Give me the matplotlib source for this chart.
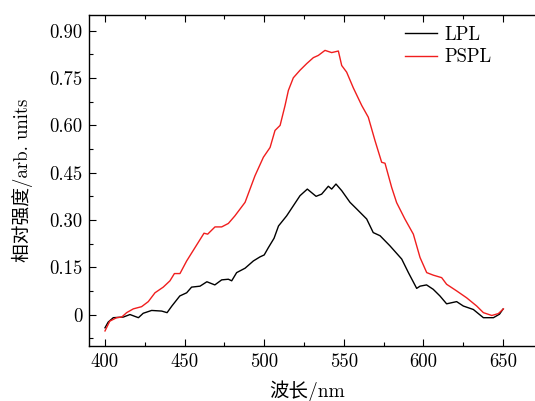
import numpy as np
import matplotlib
matplotlib.use('Agg')
import matplotlib.pyplot as plt
from matplotlib.ticker import MultipleLocator, FuncFormatter

plt.rcParams['font.family'] = ['cmr10', 'Noto Sans CJK SC']
plt.rcParams['mathtext.fontset'] = 'cm'
plt.rcParams['axes.formatter.use_mathtext'] = True

# LPL spectrum (black)
lpl_x = [400, 402, 405.2, 411.5, 415.7, 421, 424, 429.3, 435.6, 439, 442, 447, 451.3, 454.4,
         459.7, 464, 469, 473.3, 477.5, 479.6, 482.7, 488, 493.2, 497.4, 500, 502.6, 506.2,
         509, 514.1, 518.3, 522.5, 527.1, 532.6, 536.1, 540.3, 542.4, 545.1, 548.7, 553.9,
         558.1, 564.4, 568.5, 572.8, 579, 586.4, 590.6, 595.8, 597.9, 602, 606.2, 610.4,
         614.6, 620.9, 625.1, 631.4, 637.7, 644, 647.8, 650]
lpl_y = [-0.042, -0.024, -0.01, -0.008, 0.0, -0.01, 0.004, 0.013, 0.011, 0.006, 0.027, 0.059,
         0.069, 0.087, 0.09, 0.104, 0.094, 0.11, 0.112, 0.107, 0.133, 0.147, 0.17, 0.183,
         0.189, 0.212, 0.242, 0.281, 0.313, 0.345, 0.377, 0.398, 0.375, 0.382, 0.407, 0.398,
         0.414, 0.393, 0.356, 0.335, 0.303, 0.26, 0.25, 0.218, 0.176, 0.133, 0.083, 0.09,
         0.094, 0.08, 0.059, 0.034, 0.041, 0.027, 0.016, -0.01, -0.01, 0.001, 0.017]

# PSPL spectrum (red)
pspl_x = [400, 403, 407.3, 410.5, 413.6, 417.8, 423, 427.2, 431.4, 436.6, 440.8, 443.6, 447.1,
          451.3, 456.5, 462.2, 464.5, 469.1, 473.3, 477.5, 481.6, 488, 494.2, 499.5, 503.7,
          506.8, 510, 513.1, 515.2, 518.3, 522.5, 526.7, 530.9, 534, 538.2, 542.4, 546.6,
          548.7, 551.8, 556, 561.3, 565.4, 569.6, 573.8, 575.9, 580.1, 583.2, 588.4, 593.7,
          597.9, 602.1, 606.2, 611.5, 614.6, 620.9, 627.2, 633.5, 637.7, 643, 647.1, 650.3]
pspl_y = [-0.052, -0.021, -0.01, -0.008, 0.006, 0.018, 0.025, 0.041, 0.069, 0.087, 0.107, 0.13,
          0.13, 0.17, 0.212, 0.258, 0.255, 0.278, 0.278, 0.289, 0.313, 0.356, 0.44, 0.499,
          0.53, 0.584, 0.6, 0.663, 0.711, 0.751, 0.775, 0.796, 0.815, 0.822, 0.838, 0.831,
          0.836, 0.79, 0.769, 0.719, 0.663, 0.626, 0.552, 0.483, 0.48, 0.403, 0.355, 0.303,
          0.255, 0.181, 0.133, 0.125, 0.117, 0.096, 0.075, 0.053, 0.027, 0.006, -0.003,
          0.003, 0.018]

fig = plt.figure(figsize=(5.35, 4.01), dpi=100)
ax = fig.add_axes([0.1665, 0.137, 0.848, 0.8254])

ax.plot(lpl_x, lpl_y, color='black', linewidth=1.0, label='LPL')
ax.plot(pspl_x, pspl_y, color='#f01e1e', linewidth=1.0, label='PSPL')

ax.set_xlim(390, 675)
ax.set_ylim(-0.1, 0.95)
ax.xaxis.set_major_locator(MultipleLocator(50))
ax.xaxis.set_minor_locator(MultipleLocator(25))
ax.yaxis.set_major_locator(MultipleLocator(0.15))
ax.yaxis.set_minor_locator(MultipleLocator(0.075))
ax.yaxis.set_major_formatter(FuncFormatter(lambda v, p: '0' if abs(v) < 1e-9 else '%.2f' % v))
ax.xaxis.set_major_formatter(FuncFormatter(lambda v, p: '%d' % v))

ax.tick_params(which='both', direction='in', top=True, right=True, labelsize=13.5, width=0.8)
ax.tick_params(which='major', length=5, pad=5)
ax.tick_params(which='minor', length=3)
for s in ax.spines.values():
    s.set_linewidth(1.0)

ax.set_xlabel('波长/nm', fontsize=14)
ax.set_ylabel('相对强度/arb. units', fontsize=13.5)
ax.xaxis.set_label_coords(0.481, -0.105)
ax.yaxis.set_label_coords(-0.124, 0.5)

ax.legend(loc='upper left', bbox_to_anchor=(0.696, 0.968), frameon=False, fontsize=13.5,
          borderpad=0, borderaxespad=0, handlelength=1.7, handletextpad=0.4,
          labelspacing=0.25)

plt.savefig('out.png', dpi=100)
plt.close()
